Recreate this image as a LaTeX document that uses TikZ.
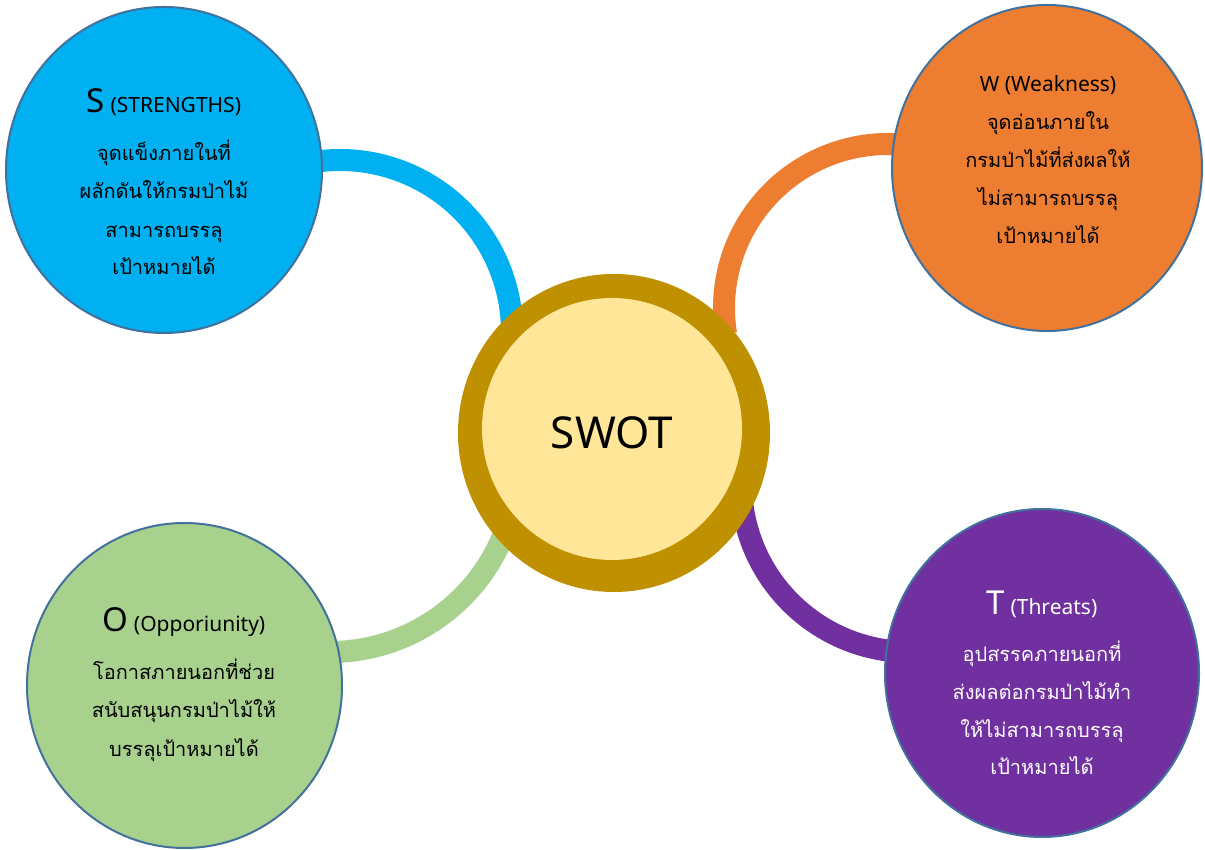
\documentclass[tikz,border=0pt]{standalone}
\usepackage{fontspec}
\setmainfont{Noto Sans}
\newfontfamily\thaifont[Script=Thai]{Loma}
\usetikzlibrary{shapes.geometric}
\definecolor{cyanS}{HTML}{00B0F0}
\definecolor{orangeW}{HTML}{ED7D31}
\definecolor{greenO}{HTML}{A9D18E}
\definecolor{purpleT}{HTML}{7030A0}
\definecolor{ringC}{HTML}{BF9000}
\definecolor{innerC}{HTML}{FFE699}
\definecolor{bordC}{HTML}{41719C}
\tikzset{
  bubble/.style={ellipse, draw=bordC, line width=2pt, inner sep=0pt},
  linkarc/.style={line width=22pt},
  thline/.style={font=\thaifont\fontsize{20}{20}\selectfont, anchor=base, inner sep=0pt},
  ttl/.style={anchor=base, inner sep=0pt, font=\fontsize{21}{21}\selectfont},
}
\newcommand{\bigletter}[1]{{\fontsize{33}{33}\selectfont #1}}
\begin{document}
\begin{tikzpicture}[x=1pt,y=1pt]
\path[use as bounding box, fill=white] (0,0) rectangle (1205,850);
% connectors
\coordinate (sS) at (310.13,687.39);
\coordinate (sW) at (902.29,705.38);
\coordinate (sO) at (313.70,198.71);
\coordinate (sT) at (741.64,352.27);
\draw[linkarc, cyanS] (sS) arc[start angle=100, end angle=3, radius=172];
\draw[linkarc, orangeW] (sW) arc[start angle=85, end angle=189, radius=164];
\draw[linkarc, greenO] (sO) arc[start angle=-95, end angle=-15, radius=187];
\draw[linkarc, purpleT] (sT) arc[start angle=185, end angle=265, radius=169];
% centre
\node[ellipse, fill=ringC, minimum width=312pt, minimum height=318pt, inner sep=0pt] (ring) at (614,417) {};
\node[ellipse, fill=innerC, minimum width=260pt, minimum height=262pt, inner sep=0pt] (core) at (612,421) {};
\node[font=\fontsize{44}{44}\selectfont, inner sep=0pt] (swot) at (612,417) {SWOT};
% bubbles
\node[bubble, fill=cyanS, minimum width=316pt, minimum height=326pt] (S) at (164,680) {};
\node[bubble, fill=orangeW, minimum width=310pt, minimum height=326pt] (W) at (1047,682) {};
\node[bubble, fill=greenO, minimum width=315pt, minimum height=325pt] (O) at (184.5,164.5) {};
\node[bubble, fill=purpleT, minimum width=314pt, minimum height=328pt] (T) at (1042,177) {};
% S text
\node[ttl] (sTitle) at (164,737) {\bigletter{S} (STRENGTHS)};
\node[thline] (s1) at (164,689) {จุดแข็งภายในที่};
\node[thline] (s2) at (164,651) {ผลักดันให้กรมป่าไม้};
\node[thline] (s3) at (164,612) {สามารถบรรลุ};
\node[thline] (s4) at (164,575) {เป้าหมายได้};
% W text
\node[ttl] (wTitle) at (1048,758) {W (Weakness)};
\node[thline] (w1) at (1048,720) {จุดอ่อนภายใน};
\node[thline] (w2) at (1048,682) {กรมป่าไม้ที่ส่งผลให้};
\node[thline] (w3) at (1048,644) {ไม่สามารถบรรลุ};
\node[thline] (w4) at (1048,606) {เป้าหมายได้};
% O text
\node[ttl] (oTitle) at (184,218) {\bigletter{O} (Opporiunity)};
\node[thline] (o1) at (184,170) {โอกาสภายนอกที่ช่วย};
\node[thline] (o2) at (184,132) {สนับสนุนกรมป่าไม้ให้};
\node[thline] (o3) at (184,93) {บรรลุเป้าหมายได้};
% T text
\begin{scope}[every node/.append style={text=white}]
\node[ttl] (tTitle) at (1042,235) {\bigletter{T} (Threats)};
\node[thline] (t1) at (1042,188) {อุปสรรคภายนอกที่};
\node[thline] (t2) at (1042,150) {ส่งผลต่อกรมป่าไม้ทำ};
\node[thline] (t3) at (1042,112) {ให้ไม่สามารถบรรลุ};
\node[thline] (t4) at (1042,75) {เป้าหมายได้};
\end{scope}
\end{tikzpicture}
\end{document}
